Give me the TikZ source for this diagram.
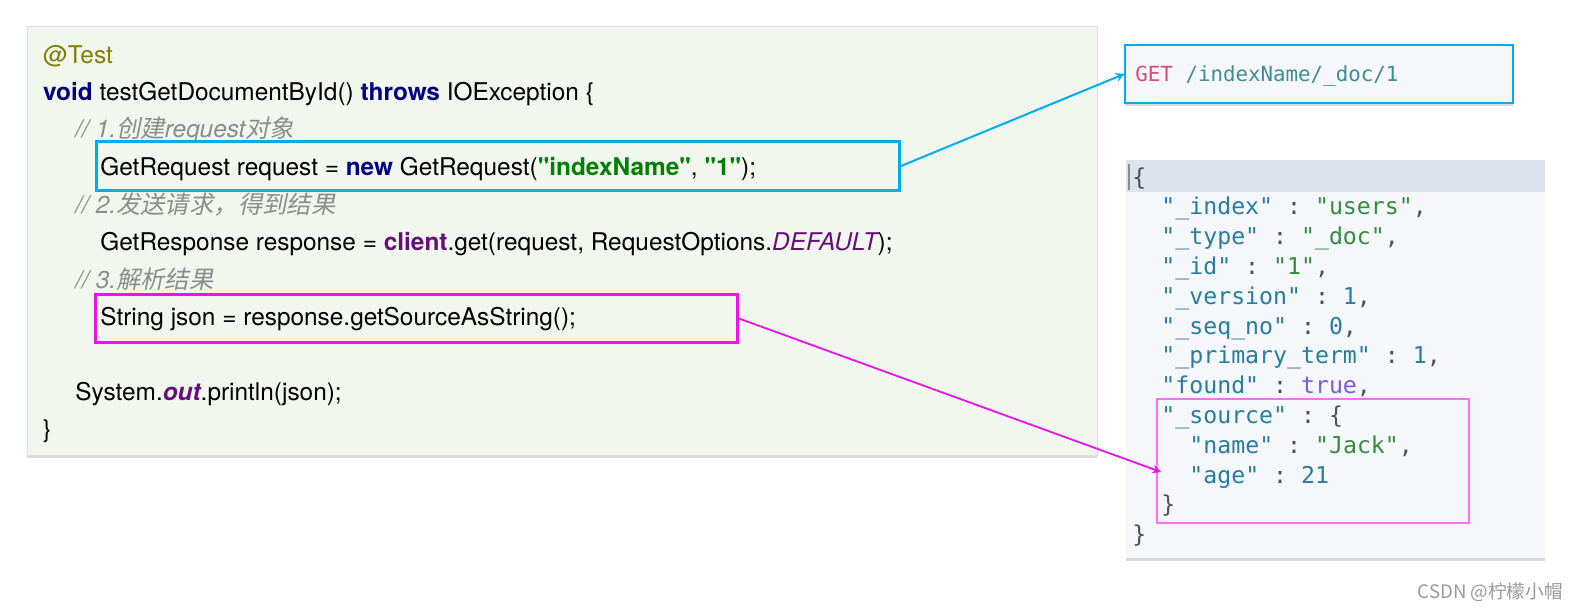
\documentclass[tikz,border=0pt]{standalone}
\usepackage{fontspec}
\setmainfont{TeX Gyre Heros}
\setmonofont{DejaVu Sans Mono}
\newfontfamily\plainheros{TeX Gyre Heros}
\newfontfamily\cjk[FakeSlant=0.2]{Noto Sans CJK SC}
\newfontfamily\cjkup{Noto Sans CJK SC}
\usetikzlibrary{fit,shadows}

\definecolor{panelgreen}{RGB}{241,247,238}
\definecolor{panelgray}{RGB}{245,247,250}
\definecolor{hdrgray}{RGB}{221,227,236}
\definecolor{boxblue}{RGB}{0,174,239}
\definecolor{boxpink}{RGB}{238,17,238}
\definecolor{srcpink}{RGB}{255,110,255}
\definecolor{kwnavy}{RGB}{0,0,128}
\definecolor{strgreen}{RGB}{0,128,0}
\definecolor{cmtgray}{RGB}{140,140,140}
\definecolor{annolive}{RGB}{128,128,0}
\definecolor{fldpurple}{RGB}{102,14,122}
\definecolor{jkey}{RGB}{38,125,160}
\definecolor{jstr}{RGB}{52,140,62}
\definecolor{jtrue}{RGB}{120,92,222}
\definecolor{jpunc}{RGB}{80,80,80}
\definecolor{getred}{RGB}{218,72,122}
\definecolor{getpath}{RGB}{62,140,150}

\newcommand\dq{{\plainheros"}}
\newcommand\kw[1]{{\color{kwnavy}\bfseries #1}}
\newcommand\str[1]{{\color{strgreen}\bfseries\dq#1\dq}}
\newcommand\cmt[1]{{\color{cmtgray}\itshape #1}}
\newcommand\fld[1]{{\color{fldpurple}\bfseries #1}}
\newcommand\jk[1]{{\color{jkey}#1}}
\newcommand\js[1]{{\color{jstr}#1}}
\newcommand\jt[1]{{\color{jtrue}#1}}

\tikzset{
  codeln/.style={anchor=base west, inner sep=0pt, font=\fontsize{12.2}{14}\selectfont},
  jsonln/.style={anchor=base west, inner sep=0pt, text=jpunc, font=\ttfamily\fontsize{11.6}{14}\selectfont},
  codepanel/.style={fill=panelgreen, draw=black!12, inner sep=0pt,
    drop shadow={shadow xshift=0pt, shadow yshift=-1.5pt, opacity=.3}},
  grayframe/.style={fill=panelgray, inner sep=0pt,
    drop shadow={shadow xshift=0pt, shadow yshift=-1.5pt, opacity=.3}},
  reqframe/.style={draw=boxblue, line width=1.5pt, inner sep=0pt},
  strframe/.style={draw=boxpink, line width=1.5pt, inner sep=0pt},
  srcframe/.style={draw=srcpink, line width=.8pt, inner sep=0pt},
  bluelink/.style={->, draw=boxblue, line width=1pt},
  pinklink/.style={->, draw=boxpink, line width=.9pt}
}

\begin{document}
\begin{tikzpicture}[x=0.5pt, y=-0.5pt, >=stealth]
\useasboundingbox (0,0) rectangle (1578,610);

% code panel
\node[codepanel, fit={(27,26) (1097,455)}] (code) {};
\node[codeln] (ann) at (42.7,64) {\textcolor{annolive}{@Test}};
\node[codeln] (sig) at (42.7,100.7) {\kw{void} testGetDocumentById() \kw{throws} IOException \{};
\node[codeln] (cmta) at (75,138) {\cmt{// 1.{\cjk 创建}request{\cjk 对象}}};
\node[codeln] (req) at (100,175.7) {GetRequest request = \kw{new} GetRequest(\str{indexName}, \str{1});};
\node[codeln] (cmtb) at (75,213) {\cmt{// 2.{\cjk 发送请求，得到结果}}};
\node[codeln] (resp) at (100,250.7) {GetResponse response = \fld{client}.get(request, RequestOptions.{\color{fldpurple}\itshape DEFAULT});};
\node[codeln] (cmtc) at (75,288) {\cmt{// 3.{\cjk 解析结果}}};
\node[codeln] (str) at (100,325) {String json = response.getSourceAsString();};
\node[codeln] (out) at (75,400) {System.{\color{fldpurple}\bfseries\itshape out}.println(json);};
\node[codeln] (close) at (42.7,437.5) {\}};

\node[reqframe, fit={(96.7,141.7) (899,190.7)}] (reqbox) {};
\node[strframe, fit={(95,294) (737,342.7)}] (strbox) {};

% request
\node[grayframe, fit={(1125,45) (1513,102.7)}] (getbox) {};
\draw[boxblue, line width=1pt] (getbox.north west) rectangle (getbox.south east);
\node[anchor=base west, inner sep=0pt, font=\ttfamily\fontsize{10.4}{12}\selectfont] (get) at (1135,82)
  {\textcolor{getred}{GET} \textcolor{getpath}{/indexName/\_doc/1}};

% response
\node[grayframe, fit={(1126,160) (1545,558)}] (json) {};
\fill[hdrgray] (1126,160) rectangle (1545,192);
\draw[black!45, line width=.8pt] (1129,164) -- (1129,190);
\node[jsonln] (j0) at (1132,185) {\{};
\node[jsonln] (j1) at (1161,214.8) {\jk{"\_index"} : \js{"users"},};
\node[jsonln] (j2) at (1161,244.6) {\jk{"\_type"} : \js{"\_doc"},};
\node[jsonln] (j3) at (1161,274.4) {\jk{"\_id"} : \js{"1"},};
\node[jsonln] (j4) at (1161,304.2) {\jk{"\_version"} : \jk{1},};
\node[jsonln] (j5) at (1161,334) {\jk{"\_seq\_no"} : \jk{0},};
\node[jsonln] (j6) at (1161,363.8) {\jk{"\_primary\_term"} : \jk{1},};
\node[jsonln] (j7) at (1161,393.6) {\jk{"found"} : \jt{true},};
\node[jsonln] (j8) at (1161,423.4) {\jk{"\_source"} : \{};
\node[jsonln] (j9) at (1189,453.2) {\jk{"name"} : \js{"Jack"},};
\node[jsonln] (j10) at (1189,483) {\jk{"age"} : \jk{21}};
\node[jsonln] (j11) at (1161,512.8) {\}};
\node[jsonln] (j12) at (1132,542.6) {\}};
\node[srcframe, fit={(1157,399) (1469,523)}] (srcbox) {};

% links
\coordinate (srctip) at (1161,472);
\draw[bluelink] (reqbox.east) -- (getbox.west);
\draw[pinklink] (strbox.east) -- (srctip);

\node[anchor=base east, inner sep=0pt, text=black!40, font=\cjkup\fontsize{9.3}{11}\selectfont] (mark) at (1563,598) {CSDN @柠檬小帽};
\end{tikzpicture}
\end{document}
